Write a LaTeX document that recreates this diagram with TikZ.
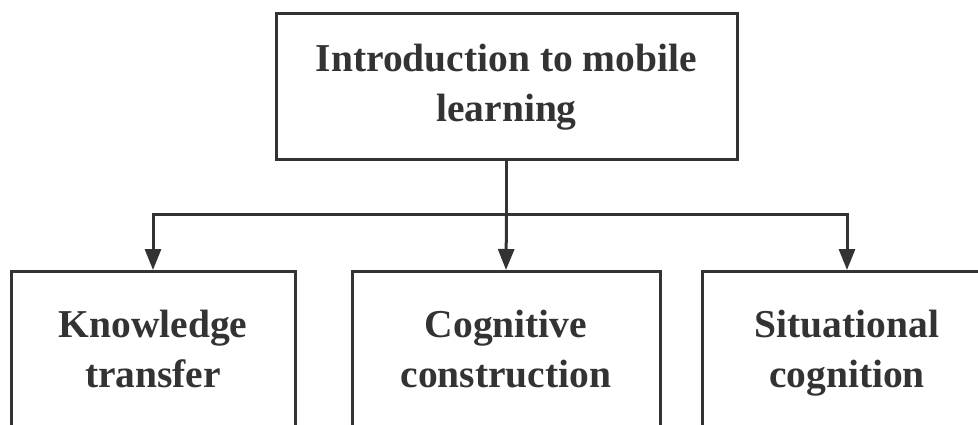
\documentclass[tikz,border=0pt]{standalone}
\usepackage{fontspec}
\setmainfont{Liberation Serif}
\usetikzlibrary{arrows.meta}
\definecolor{ink}{HTML}{333333}
\begin{document}
\begin{tikzpicture}[x=1pt,y=-1pt,
    box/.style={draw=ink,line width=3pt,text=ink,align=center,
      font=\fontsize{39.5}{50}\selectfont\bfseries,inner sep=0pt,anchor=north},
    link/.style={draw=ink,line width=3pt,-{Triangle[length=21pt,width=16pt]}}]
      \clip (0,0) rectangle (978,424);
      \draw
        (506.5,12) node[box,minimum width=461pt,minimum height=146pt] (intro){\strut Introduction to mobile\\learning\strut}
        (153,270) node[box,minimum width=284pt,minimum height=162pt] (know){\strut Knowledge\\transfer\strut}
        (506,270) node[box,minimum width=308pt,minimum height=162pt] (cogn){\strut Cognitive\\construction\strut}
        (847,270) node[box,minimum width=290pt,minimum height=162pt] (situ){\strut Situational\\cognition\strut};
      \coordinate (split) at (506.5,214);
      \begin{scope}[link]
        \draw[-] (intro.south) to (split);
        \draw (split) -| (know.north);
        \draw (split) to (cogn.north);
        \draw (split) -| (situ.north);
      \end{scope}
    \end{tikzpicture}
\end{document}
